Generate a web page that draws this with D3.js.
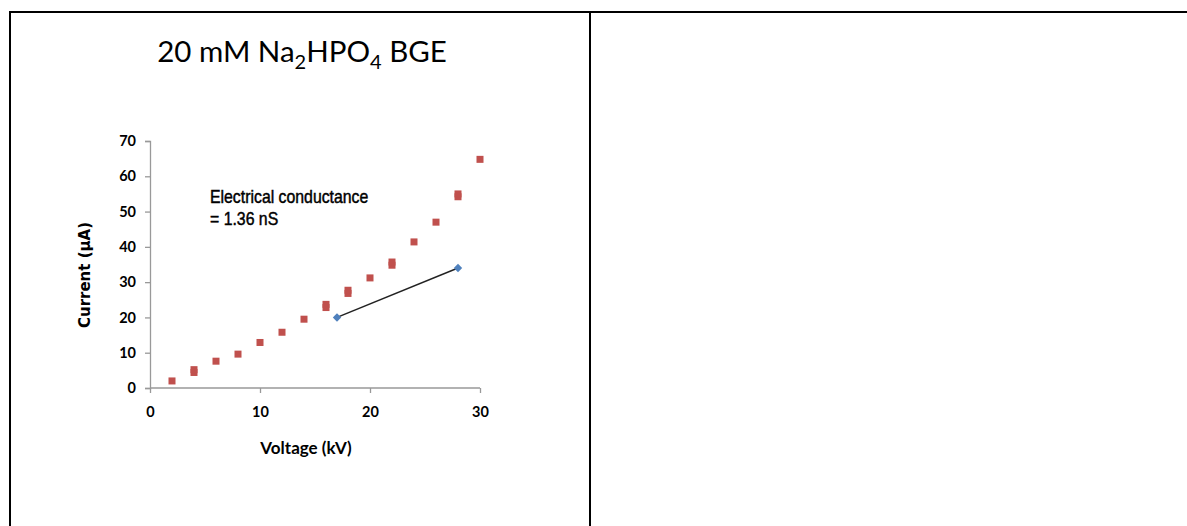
<!DOCTYPE html>
<html>
<head>
<meta charset="utf-8">
<script src="https://cdn.jsdelivr.net/npm/d3@7"></script>
<style>
  body { margin: 0; background: #fff; }
  svg { display: block; }
</style>
</head>
<body>
<div id="chart"></div>
<script>
// measured current vs applied voltage (some voltages measured twice)
var voltage = [2, 4, 4, 6, 8, 10, 12, 14, 16, 16, 18, 18, 20, 22, 22, 24, 26, 28, 28, 30];
var current = [2.0, 4.4, 5.2, 7.6, 9.6, 12.9, 15.8, 19.5, 22.8, 23.7, 26.8, 27.7, 31.2, 34.8, 35.7, 41.4, 47.0, 54.2, 55.0, 64.8];

// conductance fit segment
var fitVoltage = [17, 28];
var fitCurrent = [20, 34];

var xTicks = [0, 10, 20, 30];
var yTicks = [0, 10, 20, 30, 40, 50, 60, 70];

var width = 1187, height = 526;
var plot = {left: 150, right: 480, top: 141, bottom: 388};

var svg = d3.select("#chart").append("svg")
    .attr("width", width)
    .attr("height", height);

// table borders
svg.append("line").attr("x1", 9).attr("x2", width).attr("y1", 12).attr("y2", 12)
    .attr("stroke", "#000").attr("stroke-width", 2);
svg.append("line").attr("x1", 10).attr("x2", 10).attr("y1", 11).attr("y2", height)
    .attr("stroke", "#000").attr("stroke-width", 2);
svg.append("line").attr("x1", 590).attr("x2", 590).attr("y1", 11).attr("y2", height)
    .attr("stroke", "#000").attr("stroke-width", 2);

var x = d3.scaleLinear().domain([0, 30]).range([plot.left, plot.right]);
var y = d3.scaleLinear().domain([0, 70]).range([plot.bottom, plot.top]);

var xAxis = d3.axisBottom(x).tickValues(xTicks).tickSizeOuter(0).tickSize(5).tickPadding(14);
var yAxis = d3.axisLeft(y).tickValues(yTicks).tickSizeOuter(0).tickSize(5).tickPadding(9);

var gx = svg.append("g")
    .attr("transform", `translate(0,${plot.bottom})`)
    .call(xAxis);
var gy = svg.append("g")
    .attr("transform", `translate(${plot.left},0)`)
    .call(yAxis);

[gx, gy].forEach(g => {
  g.select(".domain").attr("stroke", "#999").attr("stroke-width", 1.3);
  g.selectAll(".tick line").attr("stroke", "#999").attr("stroke-width", 1.3);
  g.selectAll(".tick text")
    .attr("fill", "#000")
    .style("font-family", "Lato, 'Open Sans', sans-serif")
    .style("font-weight", "bold")
    .style("font-size", "14.5px");
});
gx.select(".domain").attr("d", `M${plot.left},0H${plot.right}`);

// title
var title = svg.append("text")
    .attr("x", 302)
    .attr("y", 62)
    .attr("text-anchor", "middle")
    .style("font-family", "Lato, 'Open Sans', sans-serif")
    .style("font-size", "29.5px")
    .attr("fill", "#000");
title.append("tspan").text("20 mM Na");
title.append("tspan").attr("dy", 7).style("font-size", "20px").text("2");
title.append("tspan").attr("dy", -7).text("HPO");
title.append("tspan").attr("dy", 7).style("font-size", "20px").text("4");
title.append("tspan").attr("dy", -7).text(" BGE");

// axis titles
svg.append("text")
    .attr("transform", "rotate(-90)")
    .attr("x", -275)
    .attr("y", 90)
    .attr("text-anchor", "middle")
    .style("font-family", "'DejaVu Sans', Verdana, sans-serif")
    .style("font-weight", "bold")
    .style("font-size", "15px")
    .attr("fill", "#000")
    .text("Current  (µA)");

svg.append("text")
    .attr("x", 306)
    .attr("y", 454)
    .attr("text-anchor", "middle")
    .style("font-family", "Lato, 'Open Sans', sans-serif")
    .style("font-weight", "bold")
    .style("font-size", "17px")
    .attr("fill", "#000")
    .text("Voltage  (kV)");

// annotation
var note = svg.append("text")
    .attr("transform", "translate(210,0) scale(0.88,1)")
    .style("font-family", "'Liberation Sans', Arial, sans-serif")
    .style("font-size", "18px")
    .attr("fill", "#000")
    .attr("stroke", "#000")
    .attr("stroke-width", 0.45);
note.append("tspan").attr("x", 0).attr("y", 203).text("Electrical conductance");
note.append("tspan").attr("x", 0).attr("y", 225).text("= 1.36 nS");

// data squares
var pts = voltage.map((v, i) => ({v: v, c: current[i]}));
svg.append("g").selectAll("rect")
    .data(pts)
    .enter().append("rect")
    .attr("x", d => x(d.v) - 3.5)
    .attr("y", d => y(d.c) - 3.5)
    .attr("width", 7)
    .attr("height", 7)
    .attr("fill", "#C0504D");

// fit line with diamond markers
var fit = fitVoltage.map((v, i) => ({v: v, c: fitCurrent[i]}));
svg.append("path")
    .datum(fit)
    .attr("d", d3.line().x(d => x(d.v)).y(d => y(d.c)))
    .attr("stroke", "#222")
    .attr("stroke-width", 1.5)
    .attr("fill", "none");
svg.append("g").selectAll("path")
    .data(fit)
    .enter().append("path")
    .attr("transform", d => `translate(${x(d.v)},${y(d.c)})`)
    .attr("d", d3.symbol().type(d3.symbolDiamond2).size(45))
    .attr("fill", "#4F81BD");
</script>
</body>
</html>
